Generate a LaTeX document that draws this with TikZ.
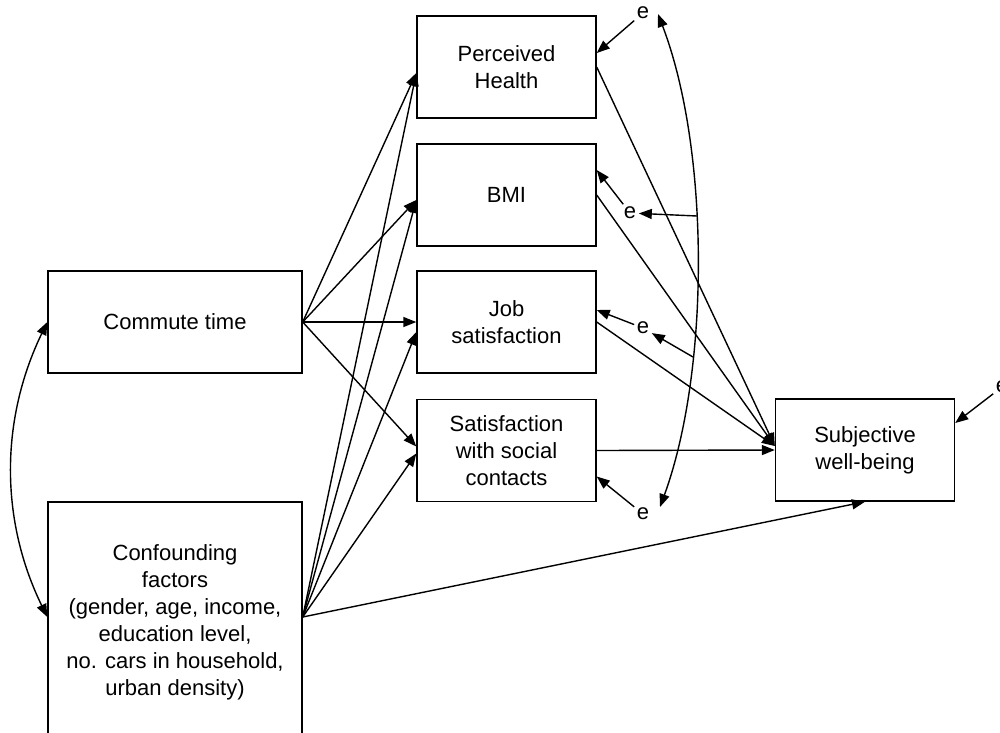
\documentclass[tikz,border=0pt]{standalone}
\usepackage{fontspec}
\setmainfont{Liberation Sans}
\usetikzlibrary{arrows.meta}

\begin{document}
\begin{tikzpicture}[x=1pt, y=-1pt, line width=1.4pt,
    every node/.style={font=\fontsize{22}{27}\selectfont, align=center},
    box/.style={draw, minimum width=179pt, minimum height=102pt, inner sep=2pt},
    err/.style={inner sep=2pt},
    arr/.style={-{Triangle[length=13pt,width=10pt]}},
    dbl/.style={{Triangle[length=13pt,width=10pt]}-{Triangle[length=13pt,width=10pt]}}]
    \useasboundingbox (0,0) rectangle (1000,732);
    \node[box, minimum width=254pt] (ct) at (175,322) {Commute time};
    \node[box, minimum width=254pt, minimum height=240pt] (cf) at (175,622) {Confounding\\factors\\(gender, age, income,\\education level,\\no. cars in household,\\urban density)};
    \node[box] (ph) at (506.5,67) {Perceived\\Health};
    \node[box] (bmi) at (506.5,195) {BMI};
    \node[box] (job) at (506.5,322) {Job\\satisfaction};
    \node[box] (soc) at (506.5,450.5) {Satisfaction\\with social\\contacts};
    \node[box] (swb) at (865,450) {Subjective\\well-being};
    \node[err] (e1) at (643,13) {e};
    \node[err] (e2) at (630,213) {e};
    \node[err] (e3) at (643,328) {e};
    \node[err] (e4) at (643,514) {e};
    \node[err] (e5) at (1002,387) {e};
    \coordinate (cfo) at ([yshift=5pt]cf.east);
    \coordinate (cfl) at ([yshift=5pt]cf.west);
    \coordinate (ctop) at (658,14);
    \coordinate (cbot) at (660,507);
    \coordinate (cb) at (697,216);
    \coordinate (cj) at (693,357);
        % commute time and confounders
        \draw[dbl] (ct.west) .. controls (0,420) and (0,520) .. (cfl);
        \draw[arr] (ct.east) -- ([yshift=-6pt]ph.west);
        \draw[arr] (ct.east) -- ([yshift=-5pt]bmi.west);
        \draw[arr] (ct.east) -- (job.west);
        \draw[arr] (ct.east) -- ([yshift=4pt]soc.west);
        \draw[arr] (cfo) -- ([yshift=-6pt]ph.west);
        \draw[arr] (cfo) -- ([yshift=-5pt]bmi.west);
        \draw[arr] (cfo) -- ([yshift=-10pt]job.west);
        \draw[arr] (cfo) -- ([yshift=-3pt]soc.west);
        \draw[arr] (cfo) -- (swb.south);
        % mediators to well-being
        \draw[arr] (ph.east) -- ([yshift=4pt]swb.west);
        \draw[arr] (bmi.east) -- ([yshift=4pt]swb.west);
        \draw[arr] (job.east) -- ([yshift=4pt]swb.west);
        \draw[arr] (soc.east) -- (swb.west);
        % error terms
        \draw[arr] (e1) -- ([yshift=14pt]ph.east);
        \draw[arr] (e2) -- ([yshift=25pt]bmi.east);
        \draw[arr] (e3) -- ([yshift=12pt]job.east);
        \draw[arr] (e4) -- ([yshift=-26pt]soc.east);
        \draw[arr] (e5) -- ([yshift=27pt]swb.east);
        \draw[dbl] (ctop) .. controls (710,150) and (710,370) .. (cbot);
        \draw[arr] (cb) -- (e2);
        \draw[arr] (cj) -- (e3);
\end{tikzpicture}
\end{document}
